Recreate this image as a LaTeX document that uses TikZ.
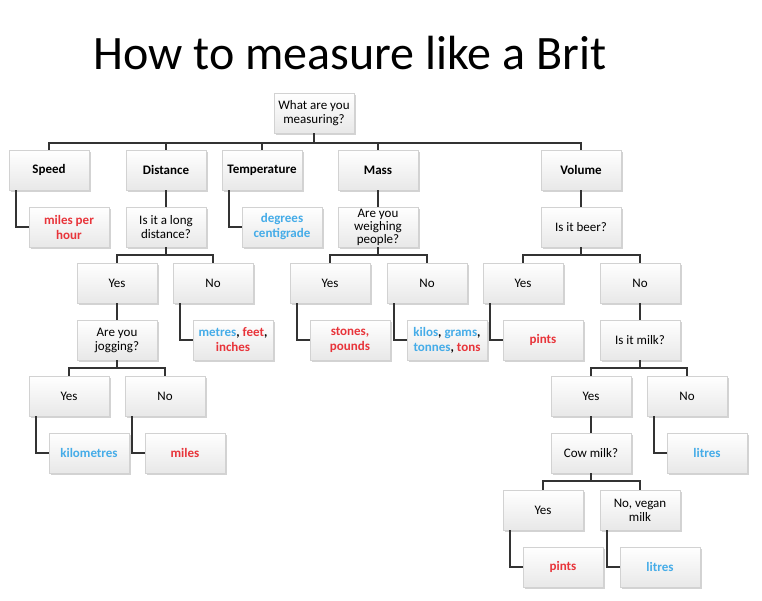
\documentclass[tikz,border=0pt]{standalone}
\usepackage{fontspec}
\setmainfont{Carlito}
\usetikzlibrary{shadows}
\definecolor{rd}{HTML}{E8343A}
\definecolor{bl}{HTML}{45ACE8}
\begin{document}
\begin{tikzpicture}[x=1pt,y=-1pt,
  box/.style={draw=gray!35,top color=white,bottom color=gray!18,
    drop shadow={shadow xshift=1.5pt,shadow yshift=-1.5pt,opacity=.35,fill=gray},
    minimum width=80pt,minimum height=40pt,align=center,
    font=\fontsize{13}{14}\selectfont,inner sep=1pt},
  b/.style={box,font=\fontsize{13}{15}\selectfont\bfseries},
  ln/.style={draw=black!80,line width=1.6pt}]
\useasboundingbox (0,0) rectangle (762,600);
\node[font=\fontsize{48}{52}\selectfont] (title) at (350,53) {How to measure like a Brit};
\node[box] (root) at (314,113) {What are you\\measuring?};
\node[b] (speed) at (49,170) {Speed};
\node[b] (dist) at (166,170) {Distance};
\node[b] (temp) at (262,170) {Temperature};
\node[b] (mass) at (378,170) {Mass};
\node[b] (vol) at (581,170) {Volume};
\node[b,text=rd] (mph) at (69,227) {miles per\\hour};
\node[box] (long) at (166,227) {Is it a long\\distance?};
\node[b,text=bl] (deg) at (282,227) {degrees\\centigrade};
\node[box,font=\fontsize{13}{13}\selectfont] (weigh) at (378,227) {Are you\\weighing\\people?};
\node[box] (beer) at (581,227) {Is it beer?};
\node[box] (y1) at (117,283) {Yes};
\node[box] (n1) at (213,283) {No};
\node[box] (y2) at (330,283) {Yes};
\node[box] (n2) at (427,283) {No};
\node[box] (y3) at (523,283) {Yes};
\node[box] (n3) at (640,283) {No};
\node[box] (jog) at (117,340) {Are you\\jogging?};
\node[b] (met) at (233,340) {\textcolor{bl}{metres}, \textcolor{rd}{feet},\\\textcolor{rd}{inches}};
\node[b,text=rd] (stone) at (350,340) {stones,\\pounds};
\node[b] (kilo) at (447,340) {\textcolor{bl}{kilos}, \textcolor{bl}{grams},\\\textcolor{bl}{tonnes}, \textcolor{rd}{tons}};
\node[b,text=rd] (pint1) at (543,340) {pints};
\node[box] (milk) at (640,340) {Is it milk?};
\node[box] (y4) at (69,396) {Yes};
\node[box] (n4) at (165,396) {No};
\node[box] (y5) at (591,396) {Yes};
\node[box] (n5) at (687,396) {No};
\node[b,text=bl] (km) at (89,453) {kilometres};
\node[b,text=rd] (miles) at (185,453) {miles};
\node[box] (cow) at (591,453) {Cow milk?};
\node[b,text=bl] (lit1) at (707,453) {litres};
\node[box] (y6) at (543,510) {Yes};
\node[box] (n6) at (640,510) {No, vegan\\milk};
\node[b,text=rd] (pint2) at (563,567) {pints};
\node[b,text=bl] (lit2) at (660,567) {litres};
\foreach \c in {speed,dist,temp,mass,vol} \draw[ln] (root.south) -- ++(0,-10pt) -| (\c.north);
\foreach \c in {y1,n1} \draw[ln] (long.south) -- ++(0,-8pt) -| (\c.north);
\foreach \c in {y2,n2} \draw[ln] (weigh.south) -- ++(0,-8pt) -| (\c.north);
\foreach \c in {y3,n3} \draw[ln] (beer.south) -- ++(0,-8pt) -| (\c.north);
\foreach \c in {y4,n4} \draw[ln] (jog.south) -- ++(0,-8pt) -| (\c.north);
\foreach \c in {y5,n5} \draw[ln] (milk.south) -- ++(0,-8pt) -| (\c.north);
\foreach \c in {y6,n6} \draw[ln] (cow.south) -- ++(0,-8pt) -| (\c.north);
\draw[ln] (dist) -- (long); \draw[ln] (mass) -- (weigh); \draw[ln] (vol) -- (beer);
\draw[ln] (y1) -- (jog); \draw[ln] (n3) -- (milk); \draw[ln] (y5) -- (cow);
\draw[ln] ([xshift=7pt]speed.south west) |- (mph.west);
\draw[ln] ([xshift=7pt]temp.south west) |- (deg.west);
\draw[ln] ([xshift=7pt]n1.south west) |- (met.west);
\draw[ln] ([xshift=7pt]y2.south west) |- (stone.west);
\draw[ln] ([xshift=7pt]n2.south west) |- (kilo.west);
\draw[ln] ([xshift=7pt]y3.south west) |- (pint1.west);
\draw[ln] ([xshift=7pt]y4.south west) |- (km.west);
\draw[ln] ([xshift=7pt]n4.south west) |- (miles.west);
\draw[ln] ([xshift=7pt]n5.south west) |- (lit1.west);
\draw[ln] ([xshift=7pt]y6.south west) |- (pint2.west);
\draw[ln] ([xshift=7pt]n6.south west) |- (lit2.west);
\end{tikzpicture}
\end{document}
